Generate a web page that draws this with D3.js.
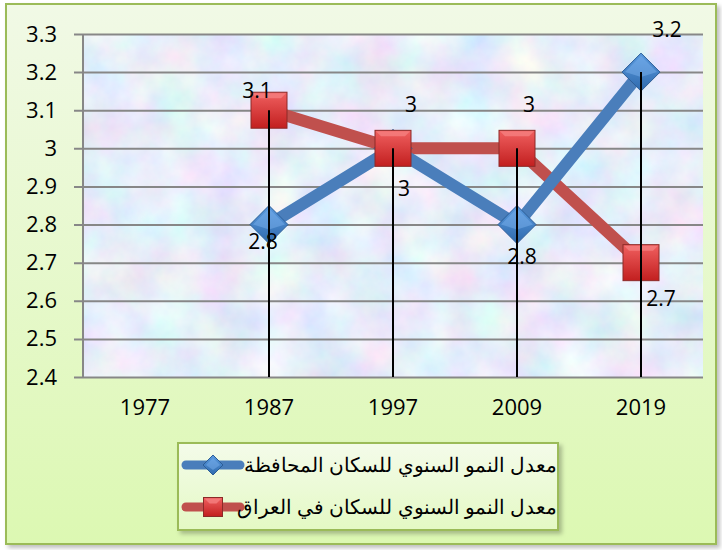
<!DOCTYPE html>
<html>
<head>
<meta charset="utf-8">
<script src="https://cdn.jsdelivr.net/npm/d3@7"></script>
<style>
body{margin:0;background:#fff;}
text{font-family:"Open Sans","Liberation Sans",sans-serif;}
</style>
</head>
<body>
<div id="chart"></div>
<script>
var years = ["1977","1987","1997","2009","2019"]
var provinceRate = [null,2.8,3,2.8,3.2]
var iraqRate = [null,3.1,3,3,2.7]
var yTicks = [2.4,2.5,2.6,2.7,2.8,2.9,3,3.1,3.2,3.3]
var seriesNames = ["معدل النمو السنوي للسكان المحافظة","معدل النمو السنوي للسكان في العراق"]
// label nudges (dx,dy) per point, picked by eye
var provinceLabelOffsets = [null,[-6,17],[11,40],[5,32],[26,-42]]
var iraqLabelOffsets = [null,[-12,-20],[18,-44],[12,-44],[20,36]]

var w = 722, h = 550
var plot = {left:83, right:703, top:34, bottom:377}

var svg = d3.select("#chart").append("svg").attr("width",w).attr("height",h)
var defs = svg.append("defs")

var bg = defs.append("linearGradient").attr("id","bg").attr("x1",0).attr("y1",0).attr("x2",0).attr("y2",1)
bg.append("stop").attr("offset","0%").attr("stop-color","#f1f9e6")
bg.append("stop").attr("offset","100%").attr("stop-color","#dcf8b2")

var lg = defs.append("linearGradient").attr("id","legbg").attr("x1",0).attr("y1",0).attr("x2",0).attr("y2",1)
lg.append("stop").attr("offset","0%").attr("stop-color","#f4fbea")
lg.append("stop").attr("offset","100%").attr("stop-color","#e4f9c4")

// pastel texture for the plot area
var tex = defs.append("filter").attr("id","tex").attr("x",0).attr("y",0).attr("width","100%").attr("height","100%")
tex.append("feTurbulence").attr("type","fractalNoise").attr("baseFrequency","0.02").attr("numOctaves",5).attr("seed",7).attr("result","noise")
tex.append("feColorMatrix").attr("in","noise").attr("type","matrix")
    .attr("values","0.5 0 0 0 0.55  0 0.4 0 0 0.65  0 0 0.2 0 0.85  0 0 0 0 1")

var redGrad = defs.append("linearGradient").attr("id","redsq").attr("x1",0).attr("y1",0).attr("x2",0).attr("y2",1)
redGrad.append("stop").attr("offset","0%").attr("stop-color","#f06060")
redGrad.append("stop").attr("offset","100%").attr("stop-color","#c21f1f")
var blueGrad = defs.append("linearGradient").attr("id","bluedm").attr("x1",0).attr("y1",0).attr("x2",0).attr("y2",1)
blueGrad.append("stop").attr("offset","0%").attr("stop-color","#5b9be0")
blueGrad.append("stop").attr("offset","100%").attr("stop-color","#2f6aad")

var shadow = defs.append("filter").attr("id","shadow").attr("x","-5%").attr("y","-5%").attr("width","115%").attr("height","115%")
shadow.append("feDropShadow").attr("dx",3).attr("dy",3).attr("stdDeviation",2).attr("flood-color","#000").attr("flood-opacity",0.25)

// chart frame
svg.append("rect").attr("x",6).attr("y",4).attr("width",710).attr("height",540)
    .attr("fill","url(#bg)").attr("stroke","#9bbb59").attr("stroke-width",2).attr("filter","url(#shadow)")

var x = d3.scaleBand().domain(years).range([plot.left,plot.right])
var y = d3.scaleLinear().domain([2.4,3.3]).range([plot.bottom,plot.top])

svg.append("rect").attr("x",plot.left).attr("y",plot.top)
    .attr("width",plot.right-plot.left).attr("height",plot.bottom-plot.top)
    .attr("filter","url(#tex)")

// gridlines + tick marks
var yAxis = d3.axisLeft(y).tickValues(yTicks).tickSize(-(plot.right-plot.left)).tickFormat(d3.format("~g"))
var gy = svg.append("g").attr("transform","translate("+plot.left+",0)").call(yAxis)
gy.select(".domain").remove()
gy.selectAll(".tick line").attr("stroke","#878787").attr("stroke-width",2).attr("x1",-9)
gy.selectAll(".tick text").attr("x",-26).attr("font-size",22).attr("fill","#000")
svg.append("line").attr("x1",plot.left).attr("x2",plot.left).attr("y1",plot.top).attr("y2",plot.bottom)
    .attr("stroke","#878787").attr("stroke-width",2)

var xAxis = d3.axisBottom(x).tickSize(0).tickPadding(22)
var gx = svg.append("g").attr("transform","translate(0,"+plot.bottom+")").call(xAxis)
gx.select(".domain").remove()
gx.selectAll(".tick text").attr("font-size",22).attr("fill","#000")

// drop lines from the higher point to the axis
var dropData = years.map(function(yr,i){
    if(provinceRate[i]==null && iraqRate[i]==null) return null
    return {year:yr, top:Math.max(provinceRate[i],iraqRate[i])}
}).filter(function(d){return d!=null})

function seriesPoints(values,offsets){
    var pts = []
    for(var i in values){
        if(values[i]==null) continue
        pts.push({year:years[i], value:values[i], off:offsets[i]})
    }
    return pts
}
var bluePts = seriesPoints(provinceRate,provinceLabelOffsets)
var redPts = seriesPoints(iraqRate,iraqLabelOffsets)

var line = d3.line()
    .x(function(d){return x(d.year)+x.bandwidth()/2})
    .y(function(d){return y(d.value)})

svg.append("path").datum(redPts).attr("d",line).attr("fill","none")
    .attr("stroke","#c0504d").attr("stroke-width",12).attr("stroke-linejoin","round")
svg.append("path").datum(bluePts).attr("d",line).attr("fill","none")
    .attr("stroke","#4a7ebb").attr("stroke-width",12).attr("stroke-linejoin","round")

function drawSquare(g,cx,cy,s){
    g.append("rect").attr("x",cx-s/2).attr("y",cy-s/2).attr("width",s).attr("height",s)
        .attr("fill","url(#redsq)").attr("stroke","#8c2a28").attr("stroke-width",1)
    g.append("path").attr("d","M"+(cx-s/2+1)+","+(cy-s/2+1)+"L"+(cx+s/2-1)+","+(cy-s/2+1)+"L"+(cx+s/2-6)+","+(cy-s/2+6)+"L"+(cx-s/2+6)+","+(cy-s/2+6)+"Z")
        .attr("fill","#f58080").attr("opacity",0.8)
}
function drawDiamond(g,cx,cy,s){
    var r = s/2
    g.append("path").attr("d","M"+cx+","+(cy-r)+"L"+(cx+r)+","+cy+"L"+cx+","+(cy+r)+"L"+(cx-r)+","+cy+"Z")
        .attr("fill","url(#bluedm)").attr("stroke","#2c5d96").attr("stroke-width",1)
    g.append("path").attr("d","M"+(cx-r+3)+","+cy+"L"+cx+","+(cy-r+3)+"L"+(cx+r-3)+","+cy+"L"+cx+","+(cy+5)+"Z")
        .attr("fill","#7ab0ec").attr("opacity",0.5)
}

var markers = svg.append("g")
bluePts.forEach(function(d){
    drawDiamond(markers,x(d.year)+x.bandwidth()/2,y(d.value),38)
})
redPts.forEach(function(d){
    drawSquare(markers,x(d.year)+x.bandwidth()/2,y(d.value),36)
})
// drop lines show through the markers in the reference
svg.selectAll(".drop").data(dropData).enter().append("line").attr("class","drop")
    .attr("x1",function(d){return x(d.year)+x.bandwidth()/2})
    .attr("x2",function(d){return x(d.year)+x.bandwidth()/2})
    .attr("y1",function(d){return y(d.top)})
    .attr("y2",y(2.4))
    .attr("stroke","#000").attr("stroke-width",2)

var labels = bluePts.concat(redPts)
svg.selectAll(".dlabel").data(labels).enter().append("text").attr("class","dlabel")
    .attr("x",function(d){return x(d.year)+x.bandwidth()/2+d.off[0]})
    .attr("y",function(d){return y(d.value)+d.off[1]})
    .attr("dy","0.35em").attr("text-anchor","middle")
    .attr("font-size",21).attr("fill","#000")
    .text(function(d){return d3.format("~g")(d.value)})

// legend
var leg = svg.append("g")
leg.append("rect").attr("x",178).attr("y",443).attr("width",380).attr("height",87)
    .attr("fill","url(#legbg)").attr("stroke","#9bbb59").attr("stroke-width",2).attr("filter","url(#shadow)")
var legRows = [{name:seriesNames[0], color:"#4a7ebb", kind:"diamond", y:465},
               {name:seriesNames[1], color:"#c0504d", kind:"square", y:507}]
legRows.forEach(function(r){
    leg.append("line").attr("x1",186).attr("x2",240).attr("y1",r.y).attr("y2",r.y)
        .attr("stroke",r.color).attr("stroke-width",9).attr("stroke-linecap","round")
    if(r.kind=="diamond") drawDiamond(leg,213,r.y,20)
    else drawSquare(leg,213,r.y,19)
    leg.append("text").attr("x",557).attr("y",r.y).attr("dy","0.35em")
        .attr("text-anchor","start").attr("direction","rtl")
        .attr("font-family","'DejaVu Sans',sans-serif")
        .attr("font-size",20).attr("fill","#000").text(r.name)
})
</script>
</body>
</html>
